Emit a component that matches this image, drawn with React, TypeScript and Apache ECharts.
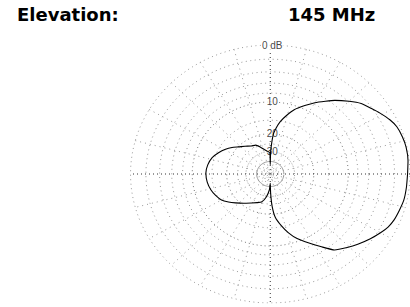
import React, { useEffect, useRef } from 'react';
import * as echarts from 'echarts';

const titleLeft = 'Elevation:';
const titleRight = '145 MHz';

// Elevation pattern: angle (deg, 0 = right horizon, CCW) and gain (dB)
const elevationDeg = [0, 6, 12, 17, 22, 26, 31, 35, 40, 45, 51, 55, 60, 65, 71, 76, 80, 83, 86, 89, 90, 91, 96, 101, 109, 115, 122, 130, 137, 143, 149, 156, 163, 171, 179, 188, 196, 203, 210, 216, 222, 230, 239, 247, 254, 261, 267, 270, 271, 273, 276, 281, 286, 291, 297, 303, 308, 314, 319, 325, 330, 334, 338, 343, 348, 354, 360];
const gainDb = [-0.3, -0.15, -0.1, -0.2, -0.4, -0.8, -1.5, -2.1, -2.8, -3.9, -5.3, -6.4, -7.7, -9.2, -11.0, -13.2, -15.2, -17.4, -20.3, -30, -45, -31, -29.8, -28.6, -25.9, -24.0, -23.4, -21.8, -20.2, -18.4, -16.9, -15.5, -14.3, -13.6, -13.3, -13.5, -14.0, -14.7, -15.6, -17.1, -18.8, -20.9, -23.0, -24.4, -25.5, -29.4, -35.8, -45, -33, -24.0, -18.8, -15.5, -12.8, -10.7, -8.8, -6.8, -5.0, -4.0, -3.2, -2.3, -1.6, -1.1, -0.8, -0.6, -0.4, -0.35, -0.3];

// Grid rings (dB) and labelled rings
const ringDb = [0, -2, -4, -6, -8, -10, -15, -20, -25, -30, -40, -50];
const labelDb = [0, -10, -20, -30];
const labelText = ['0 dB', '10', '20', '30'];
const spokeAngles = [0, 15, 30, 45, 60, 75, 90, 105, 120, 135, 150, 165];

// ARRL log scale: radius factor 0.89 per 2 dB
const arrl = (db: number) => Math.pow(0.89, -db / 2);
const rad = (a: number) => (a * Math.PI) / 180;
const polarPt = (a: number, db: number) => {
  const r = arrl(db);
  return [r * Math.cos(rad(a)), r * Math.sin(rad(a))];
};

function ringStyle(db: number) {
  if (db === -10 || db === -20) return { color: '#777', width: 1, type: [1, 3] as any };
  if (db === -30) return { color: '#999', width: 1, type: [1, 1.5] as any };
  if (db === -40) return { color: '#999', width: 1, type: 'solid' as any };
  return { color: '#999', width: 1, type: [1, 3.5] as any };
}

export default function App() {
  const ref = useRef<HTMLDivElement>(null);
  useEffect(() => {
    if (!ref.current) return;
    const chart = echarts.init(ref.current, undefined, { renderer: 'svg' });
    const series: any[] = [];
    ringDb.forEach((db) => {
      const pts: number[][] = [];
      for (let a = 0; a <= 360; a += 3) pts.push(polarPt(a, db));
      series.push({
        type: 'line', data: pts, showSymbol: false, silent: true, z: 1,
        lineStyle: ringStyle(db),
      });
    });
    spokeAngles.forEach((a) => {
      const main = a % 90 === 0;
      series.push({
        type: 'line', showSymbol: false, silent: true, z: 1,
        data: [polarPt(a, 0), polarPt(a + 180, 0)],
        lineStyle: { color: main ? '#333' : '#999', width: 1, type: main ? [1, 3] : [1, 4] },
      });
    });
    series.push({
      type: 'scatter', symbolSize: 0, z: 3, silent: true,
      data: labelDb.map((db, i) => ({ value: [0, arrl(db)], name: labelText[i] })),
      label: {
        show: true, position: 'inside', offset: [2, 0], formatter: (p: any) => p.name,
        color: '#111', fontSize: 10, fontFamily: 'Liberation Sans',
        backgroundColor: '#fff', padding: [0, 1],
      },
    });
    series.push({
      type: 'line', z: 5, showSymbol: false, smooth: 0.15,
      data: elevationDeg.map((a, i) => polarPt(a, gainDb[i])),
      lineStyle: { color: '#000', width: 1.1 },
    });
    chart.setOption({
      animation: false,
      backgroundColor: '#fff',
      title: [
        { text: titleLeft, left: 17, top: 4, padding: 0, textStyle: { fontFamily: 'DejaVu Sans', fontWeight: 'bold', fontSize: 18, color: '#000', lineHeight: 20 } },
        { text: titleRight, left: 288, top: 4, padding: 0, textStyle: { fontFamily: 'DejaVu Sans', fontWeight: 'bold', fontSize: 18, color: '#000', lineHeight: 20 } },
      ],
      grid: { left: 130.5, top: 45, width: 282, height: 258 },
      xAxis: { type: 'value', min: -1, max: 1, show: false },
      yAxis: { type: 'value', min: -1, max: 1, show: false },
      series,
    });
    return () => chart.dispose();
  }, []);
  return <div ref={ref} style={{ position: 'fixed', left: 0, top: 0, width: 410, height: 307 }} />;
}
